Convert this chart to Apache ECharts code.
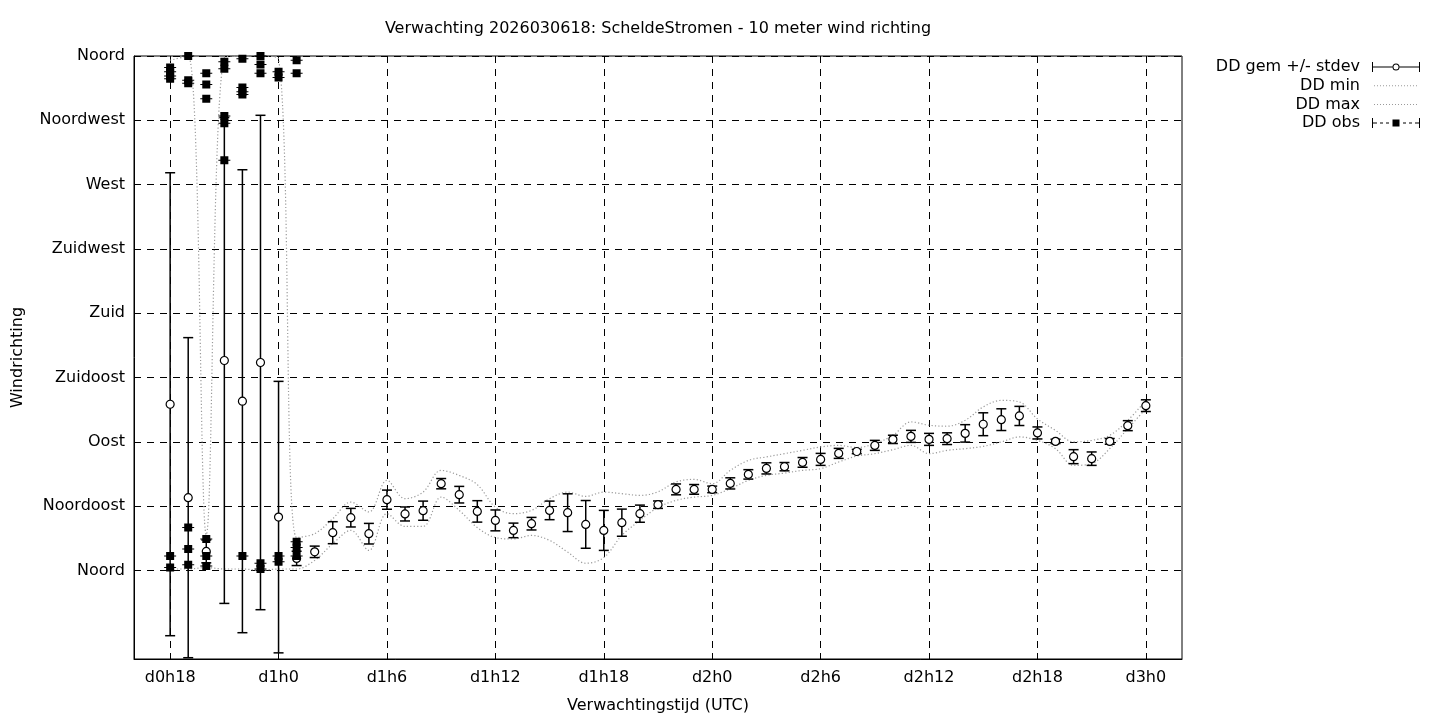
<!DOCTYPE html>
<html>
<head>
<meta charset="utf-8">
<script src="https://cdn.jsdelivr.net/npm/echarts@6/dist/echarts.min.js"></script>
<style>html,body{margin:0;padding:0;background:#fff}#chart{width:1440px;height:720px}</style>
</head>
<body>
<div id="chart"></div>
<script>
// ---- data (hours since d0h0) ----
const hours = [18,19,20,21,22,23,24,25,26,27,28,29,30,31,32,33,34,35,36,37,38,39,40,41,42,43,44,45,46,47,48,49,50,51,52,53,54,55,56,57,58,59,60,61,62,63,64,65,66,67,68,69,70,71,72];
const ddMean = [116.3,50.9,13.3,146.9,118.4,145.5,37.3,8.4,13,26.4,36.9,25.7,49.5,39.5,41.8,60.7,53,41.3,35,28,32.7,42,40.4,32.2,28,33.4,39.7,46,56.7,56.7,56.7,60.9,67.2,71.4,72.6,75.6,77.7,81.9,83.2,87.5,91.7,93.8,91.7,92.2,95.9,102.3,105.5,108.1,96.2,90.3,79.6,78.2,90.3,101.3,115.3];
const ddStdev = [162,112,8,170,162,173,95,5,4,7.7,6.5,7.2,6.7,4.9,6.7,3.6,5.8,7.5,7.3,5.1,4.4,6.5,13.2,16.7,14,9.5,6,2.6,3.8,3.4,2.3,3.9,3.3,3.9,2.9,3.4,4.2,3.5,1.5,3.5,2.9,4.2,4.2,4.1,6.1,8,7.6,6.7,4.2,1.5,4.9,4.7,2,3.5,4.1];
const ddMin = [1,1,2,1,1,0,1,1,7,18.7,28,14,39.7,30.8,30.8,51.3,42,30,23,22,24.5,21,12.8,5,9,24.5,35,44,49,51.3,52.5,57.2,63,66.5,68.1,70,71.2,75.9,80,81.7,84.5,87.5,81.7,84,85.2,86.8,89.9,93.4,91,85.2,73.5,74.7,85.2,99.2,113.2];
const ddMax = [357,360,25,359,360,360,358,23,25.7,36.2,47.8,40.9,63,50.2,54.8,70,66.5,60,44.3,39.7,42,50.2,54.8,51.8,54.8,53.7,52.5,55,61.9,63.7,60.7,70,77,79.4,81.7,84,86.4,87.5,86,88.7,94.5,103.9,101.6,100.9,105,114.4,119,117.9,106,98,89.9,91,94.5,105,119];
const obsHours = [18,18,18,18,18,18, 19,19,19,19,19,19, 20,20,20,20,20,20, 21,21,21,21,21, 22,22,22,22,22, 23,23,23,23,23, 24,24,24,24, 25,25,25,25,25];
const obsDir   = [352,349,346,344,10,2, 360,343,341,30,15,4, 348,340,330,22,10,3, 356,351,318,313,287, 358,338,335,333,10, 360,354,348,5,1, 349,345,10,6, 357,348,20,16,10];
const xTickValues = [18,24,30,36,42,48,54,60,66,72];
const xTickLabels = ['d0h18','d1h0','d1h6','d1h12','d1h18','d2h0','d2h6','d2h12','d2h18','d3h0'];
const yTickValues = [0,45,90,135,180,225,270,315,360];
const yTickLabels = ['Noord','Noordoost','Oost','Zuidoost','Zuid','Zuidwest','West','Noordwest','Noord'];
const titleText = 'Verwachting 2026030618: ScheldeStromen - 10 meter wind richting';

const FONT = 'DejaVu Sans';
const FS = 16;
const chart = echarts.init(document.getElementById('chart'), null, {renderer: 'canvas'});

// legend icons (48 x 10 boxes)
const meanIcon = 'path://M0 0H1V10H0Z M1 4.5H20.5V5.5H1Z M27.5 4.5H47V5.5H27.5Z M47 0H48V10H47Z ' +
  'M27.5 5A3.5 3.5 0 1 0 20.5 5A3.5 3.5 0 1 0 27.5 5Z M26.5 5A2.5 2.5 0 1 1 21.5 5A2.5 2.5 0 1 1 26.5 5Z';
const obsIcon = 'path://M0 0H1V10H0Z M1 4.5H5V5.5H1Z M8 4.5H11V5.5H8Z M14 4.5H17V5.5H14Z M20.5 1.5H27.5V8.5H20.5Z ' +
  'M31 4.5H34V5.5H31Z M37 4.5H40V5.5H37Z M43 4.5H47V5.5H43Z M47 0H48V10H47Z';
let dotPath = 'path://M0 0H0.01V0.01H0Z M47.99 9.99H48V10H47.99Z';
for (let px = 2; px < 47; px += 3) dotPath += ' M' + px + ' 4.5H' + (px + 1) + 'V5.5H' + px + 'Z';
const dotIcon = dotPath;

const errData = hours.map((h, i) => [h, ddMean[i], ddStdev[i]]);

const option = {
  backgroundColor: '#fff',
  animation: false,
  textStyle: {fontFamily: FONT},
  grid: {left: 134, top: 56, right: 258, bottom: 61, show: true, borderColor: '#000', borderWidth: 1, backgroundColor: 'transparent'},
  graphic: [{
    type: 'text', x: 658, y: 29,
    style: {text: titleText, fontFamily: FONT, fontSize: FS, fill: '#000', textAlign: 'center', textVerticalAlign: 'middle'}
  }],
  legend: {
    orient: 'vertical', right: 20, top: 59, align: 'right', padding: 0,
    itemWidth: 48, itemHeight: 10, itemGap: 2.7, selectedMode: false,
    textStyle: {fontFamily: FONT, fontSize: FS, color: '#000', lineHeight: 16, padding: [0, 7, 0, 0]},
    data: [
      {name: 'DD gem +/- stdev', icon: meanIcon, itemStyle: {color: '#000', borderWidth: 0, opacity: 1}},
      {name: 'DD min', icon: dotIcon, itemStyle: {color: '#9a9a9a', borderWidth: 0}},
      {name: 'DD max', icon: dotIcon, itemStyle: {color: '#9a9a9a', borderWidth: 0}},
      {name: 'DD obs', icon: obsIcon, itemStyle: {color: '#000', borderWidth: 0, opacity: 1}}
    ]
  },
  xAxis: {
    type: 'value', min: 16, max: 74,
    name: 'Verwachtingstijd (UTC)', nameLocation: 'middle', nameGap: 39,
    nameTextStyle: {fontFamily: FONT, fontSize: FS, color: '#000'},
    axisLine: {show: true, onZero: false, lineStyle: {color: '#000', width: 1}},
    axisTick: {show: true, inside: true, length: 6, customValues: xTickValues, lineStyle: {color: '#000'}},
    axisLabel: {customValues: xTickValues, margin: 11, fontFamily: FONT, fontSize: FS, color: '#000',
      formatter: v => xTickLabels[xTickValues.indexOf(v)] || ''},
    splitLine: {show: true, lineStyle: {color: '#000', width: 1, type: [7, 6]}}
  },
  yAxis: {
    type: 'value', min: -62, max: 360,
    name: 'Windrichting', nameLocation: 'middle', nameGap: 108, nameRotate: 90,
    nameTextStyle: {fontFamily: FONT, fontSize: FS, color: '#000'},
    axisLine: {show: true, onZero: false, lineStyle: {color: '#000', width: 1}},
    axisTick: {show: true, inside: true, length: 6, customValues: yTickValues, lineStyle: {color: '#000'}},
    axisLabel: {customValues: yTickValues, margin: 9, fontFamily: FONT, fontSize: FS, color: '#000',
      formatter: v => yTickLabels[yTickValues.indexOf(v)] || ''},
    splitLine: {show: true, lineStyle: {color: '#000', width: 1, type: [7, 6]}}
  },
  series: [
    {
      name: 'DD min', type: 'line', data: hours.map((h, i) => [h, ddMin[i]]),
      showSymbol: false, symbol: 'none', smooth: 0.35, z: 2,
      lineStyle: {color: '#9a9a9a', width: 1.2, type: [1.2, 2.2]}, itemStyle: {color: '#9a9a9a'}
    },
    {
      name: 'DD max', type: 'line', data: hours.map((h, i) => [h, ddMax[i]]),
      showSymbol: false, symbol: 'none', smooth: 0.35, z: 2,
      lineStyle: {color: '#9a9a9a', width: 1.2, type: [1.2, 2.2]}, itemStyle: {color: '#9a9a9a'}
    },
    {
      name: 'DD gem +/- stdev', type: 'custom', data: errData, clip: true, z: 3,
      encode: {x: 0, y: 1},
      itemStyle: {color: '#000'},
      renderItem: function (params, api) {
        const x = api.value(0), m = api.value(1), s = api.value(2);
        const t = api.coord([x, m + s]);
        const b = api.coord([x, m - s]);
        const hw = 5;
        const st = {stroke: '#000', lineWidth: 1.5};
        return {type: 'group', children: [
          {type: 'line', shape: {x1: t[0], y1: t[1], x2: b[0], y2: b[1]}, style: st},
          {type: 'line', shape: {x1: t[0] - hw, y1: t[1], x2: t[0] + hw, y2: t[1]}, style: st},
          {type: 'line', shape: {x1: b[0] - hw, y1: b[1], x2: b[0] + hw, y2: b[1]}, style: st}
        ]};
      }
    },
    {
      name: 'DD gem +/- stdev', type: 'scatter', data: hours.map((h, i) => [h, ddMean[i]]),
      symbol: 'circle', symbolSize: 8, z: 4,
      itemStyle: {color: '#fff', borderColor: '#000', borderWidth: 1.2, opacity: 1}
    },
    {
      name: 'DD obs', type: 'scatter', data: obsHours.map((h, i) => [h, obsDir[i]]),
      symbol: 'path://M0 3.5H2V0H10V3.5H12V4.5H10V8H2V4.5H0Z', symbolSize: [12, 8], z: 5,
      itemStyle: {color: '#000', opacity: 1}
    }
  ]
};
chart.setOption(option);
</script>
</body>
</html>
